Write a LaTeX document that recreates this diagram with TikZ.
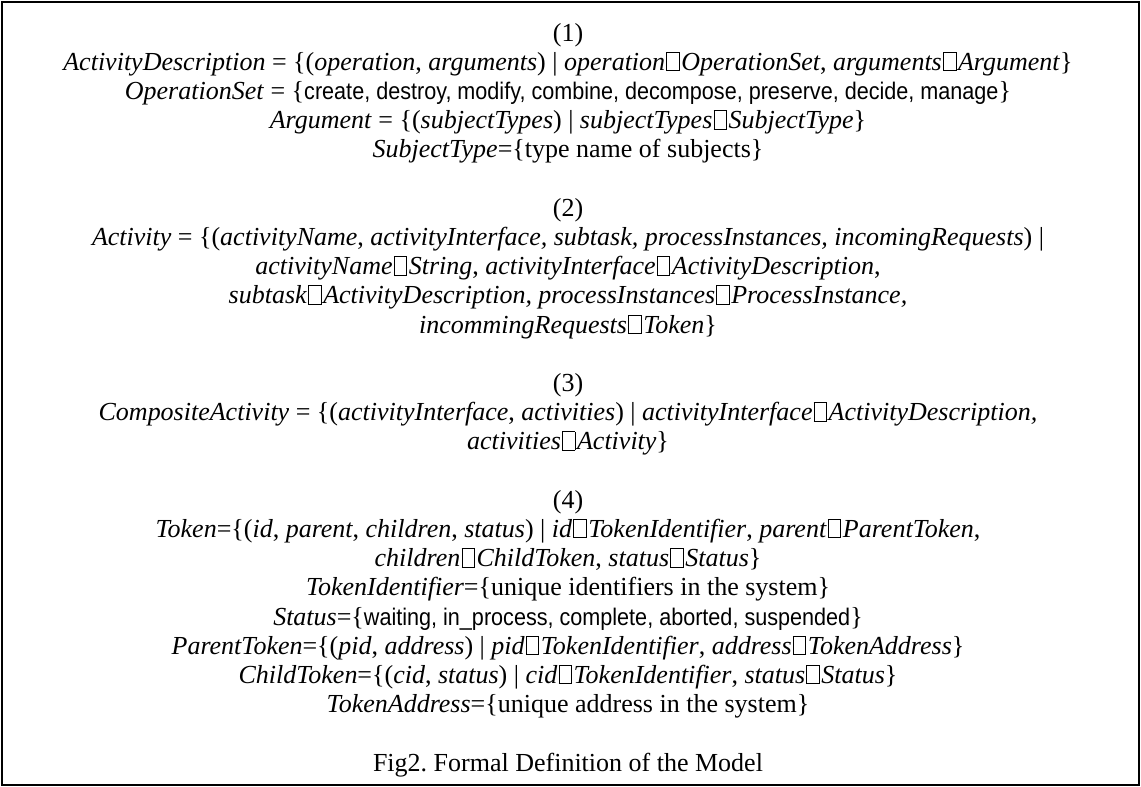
\documentclass[tikz,border=0pt]{standalone}
\usepackage{fontspec}
\setmainfont{Liberation Serif}
\newfontfamily\arialfont[FakeStretch=0.9]{Liberation Sans}
\frenchspacing
\newcommand{\inbox}{\kern0.6pt{\fboxsep=0pt\fboxrule=0.45pt\fbox{\rule{0pt}{8.8pt}\kern5.8pt}}\kern0.8pt}
\newcommand{\iv}[1]{\textit{#1}}
\newcommand{\sv}[1]{{\arialfont\fontsize{12}{14}\selectfont #1}}
\tikzset{
  defline/.style={anchor=base, inner sep=0pt, font=\fontsize{13}{15}\selectfont},
  frameline/.style={line width=1.1pt, draw=black}
}

\begin{document}
\begin{tikzpicture}[x=0.5pt, y=-0.5pt]
        \useasboundingbox (0,0) rectangle (1141,787);
        \draw[frameline] (2,2) rectangle (1139,785);
        \begin{scope}[every node/.style={defline}]
            % (1)
            \node (num1)     at (568, 41 + 29.2 *  0) {(1)};
            \node (descr)    at (568, 41 + 29.2 *  1) {\iv{ActivityDescription} = \{(\iv{operation}, \iv{arguments}) | \iv{operation}\inbox\iv{OperationSet}, \iv{arguments}\inbox\iv{Argument}\}};
            \node (opset)    at (568, 41 + 29.2 *  2) {\iv{OperationSet} = \{\sv{create, destroy, modify, combine, decompose, preserve, decide, manage}\}};
            \node (arg)      at (568, 41 + 29.2 *  3) {\iv{Argument} = \{(\iv{subjectTypes}) | \iv{subjectTypes}\inbox\iv{SubjectType}\}};
            \node (subjtype) at (568, 41 + 29.2 *  4) {\iv{SubjectType}=\{type name of subjects\}};
            % (2)
            \node (num2)     at (568, 41 + 29.2 *  6) {(2)};
            \node (act)      at (568, 41 + 29.2 *  7) {\iv{Activity} = \{(\iv{activityName}, \iv{activityInterface, subtask, processInstances, incomingRequests}) |};
            \node (actA)     at (568, 41 + 29.2 *  8) {\iv{activityName}\inbox\iv{String}, \iv{activityInterface}\inbox\iv{ActivityDescription},};
            \node (actB)     at (568, 41 + 29.2 *  9) {\iv{subtask}\inbox\iv{ActivityDescription, processInstances}\inbox\iv{ProcessInstance,}};
            \node (actC)     at (568, 41 + 29.2 * 10) {\iv{incommingRequests}\inbox\iv{Token}\}};
            % (3)
            \node (num3)     at (568, 41 + 29.2 * 12) {(3)};
            \node (comp)     at (568, 41 + 29.2 * 13) {\iv{CompositeActivity} = \{(\iv{activityInterface}, \iv{activities}) | \iv{activityInterface}\inbox\iv{ActivityDescription,}};
            \node (compA)    at (568, 41 + 29.2 * 14) {\iv{activities}\inbox\iv{Activity}\}};
            % (4)
            \node (num4)     at (568, 41 + 29.2 * 16) {(4)};
            \node (token)    at (568, 41 + 29.2 * 17) {\iv{Token}=\{(\iv{id}, \iv{parent}, \iv{children}, \iv{status}) | \iv{id}\inbox\iv{TokenIdentifier}, \iv{parent}\inbox\iv{ParentToken},};
            \node (tokenA)   at (568, 41 + 29.2 * 18) {\iv{children}\inbox\iv{ChildToken}, \iv{status}\inbox\iv{Status}\}};
            \node (tokid)    at (568, 41 + 29.2 * 19) {\iv{TokenIdentifier}=\{unique identifiers in the system\}};
            \node (status)   at (568, 41 + 29.2 * 20) {\iv{Status}=\{\sv{waiting, in\_process, complete, aborted, suspended}\}};
            \node (parent)   at (568, 41 + 29.2 * 21) {\iv{ParentToken}=\{(\iv{pid}, \iv{address}) | \iv{pid}\inbox\iv{TokenIdentifier}, \iv{address}\inbox\iv{TokenAddress}\}};
            \node (child)    at (568, 41 + 29.2 * 22) {\iv{ChildToken}=\{(\iv{cid}, \iv{status}) | \iv{cid}\inbox\iv{TokenIdentifier}, \iv{status}\inbox\iv{Status}\}};
            \node (tokaddr)  at (568, 41 + 29.2 * 23) {\iv{TokenAddress}=\{unique address in the system\}};
            % caption
            \node (caption)  at (568, 41 + 29.2 * 25) {Fig2. Formal Definition of the Model};
        \end{scope}
    \end{tikzpicture}
\end{document}
